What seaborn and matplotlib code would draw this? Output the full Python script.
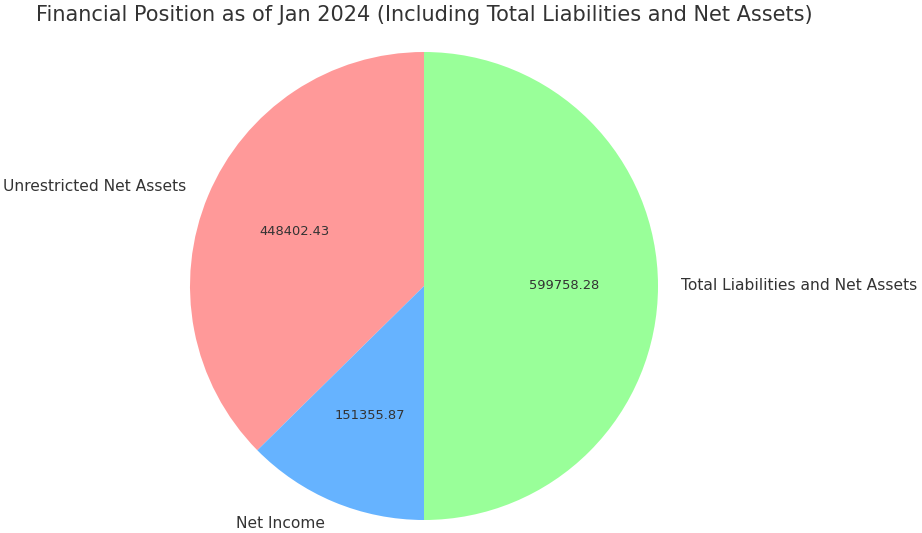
"""
Financial position pie chart - Jan 2024
"""

import matplotlib
matplotlib.use('Agg')
import matplotlib.pyplot as plt
import seaborn as sns

# Data
labels = ['Unrestricted Net Assets', 'Net Income', 'Total Liabilities and Net Assets']
values = [448402.43, 151355.87, 599758.28]
colors = ['#ff9999', '#66b3ff', '#99ff99']
title = 'Financial Position as of Jan 2024 (Including Total Liabilities and Net Assets)'

sns.set_theme(style='white')
plt.rcParams['font.family'] = ['DejaVu Sans']
text_color = '#333333'

fig = plt.figure(figsize=(9.22, 5.33), dpi=100)
ax = fig.add_axes([0, 0, 1, 1])

# show the real values inside the slices (not percentages)
value_iter = iter(values)
wedges, label_texts, pct_texts = ax.pie(
    values, labels=labels, colors=colors, startangle=90,
    autopct=lambda p: f'{next(value_iter):.2f}',
    wedgeprops={'linewidth': 0},
    textprops={'color': text_color, 'fontsize': 11.2})

for t in pct_texts:
    t.set_fontsize(9.4)

# place the pie: radius ~234 px, center at (424, 286) px
r_px = 234.0
ax.set_xlim(-424 / r_px, (922 - 424) / r_px)
ax.set_ylim(-(533 - 286) / r_px, 286 / r_px)
ax.set_aspect('auto')
ax.axis('off')

fig.text(424 / 922, 1 - 15 / 533, title, ha='center', va='center',
         fontsize=15, color=text_color)

plt.savefig('out.png', dpi=100)
plt.close()
